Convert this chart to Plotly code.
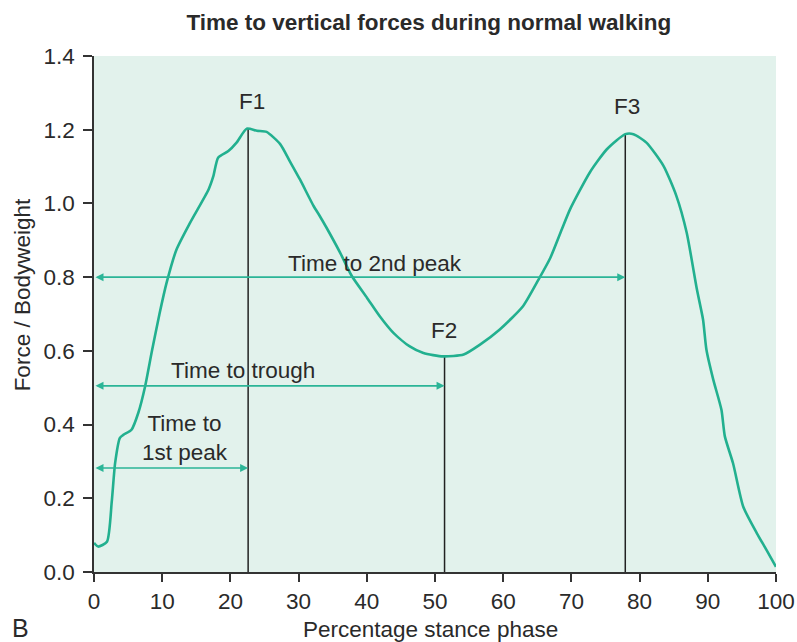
import plotly.graph_objects as go

# Ground reaction force curve (percentage stance, force / bodyweight)
stance_pct = [0, 0.6, 1.9, 2.6, 3.1, 3.8, 4.3, 5.5, 6.5, 7.5, 8.5, 9.6, 10.65, 12.1,
              14.1, 16.8, 17.5, 18.2, 19.7, 20.9, 22.4, 23.9, 25.3, 27.3, 28.7,
              30.2, 32.2, 33.1, 34.1, 36.1, 37.8, 40.0, 41.9, 43.9, 46.3, 48.3,
              51.2, 54.2, 56.6, 59.5, 62.9, 65.2, 66.9, 68.6, 69.8, 72.7, 75.2,
              77.9, 79.1, 81.0, 83.5, 85.4, 86.9, 88.4, 89.3, 89.8, 90.8, 92.0,
              92.5, 93.7, 95.2, 97.2, 98.6, 100.0]
force_bw = [0.079, 0.069, 0.082, 0.19, 0.296, 0.364, 0.372, 0.386, 0.432, 0.504,
            0.60, 0.70, 0.785, 0.875, 0.948, 1.038, 1.074, 1.124, 1.142, 1.165,
            1.203, 1.197, 1.194, 1.161, 1.115, 1.065, 0.993, 0.966, 0.934, 0.866,
            0.803, 0.745, 0.694, 0.649, 0.612, 0.594, 0.585, 0.590, 0.617, 0.658,
            0.721, 0.794, 0.852, 0.93, 0.984, 1.084, 1.147, 1.188, 1.188, 1.165,
            1.102, 1.02, 0.921, 0.767, 0.685, 0.603, 0.522, 0.44, 0.368, 0.295,
            0.177, 0.105, 0.06, 0.014]

# Peaks / trough
peak_names = ["F1", "F2", "F3"]
peak_x = [22.6, 51.4, 77.9]
peak_y = [1.203, 0.585, 1.188]
peak_label_x = [23.2, 51.3, 78.2]
peak_label_y = [1.277, 0.655, 1.264]

# Timing arrows
arrow_labels = ["Time to<br>1st peak", "Time to trough", "Time to 2nd peak"]
arrow_y = [0.282, 0.505, 0.80]
arrow_label_x = [13.3, 21.85, 41.2]
arrow_label_y = [0.364, 0.546, 0.837]

x_ticks = [0, 10, 20, 30, 40, 50, 60, 70, 80, 90, 100]
y_ticks = [0.0, 0.2, 0.4, 0.6, 0.8, 1.0, 1.2, 1.4]

TEAL = "#22b08f"
ARROW = "#2bb597"
TXT = "#2a2a2a"
FONT = "Liberation Sans, Arial, sans-serif"
FS = 22.5

fig = go.Figure()

# vertical lines at peaks
for px, py in zip(peak_x, peak_y):
    fig.add_trace(go.Scatter(x=[px, px], y=[0, py], mode="lines",
                             line=dict(color="#222222", width=1.5),
                             hoverinfo="skip", showlegend=False))

fig.add_trace(go.Scatter(x=stance_pct, y=force_bw, mode="lines",
                         line=dict(color=TEAL, width=2.6, shape="spline", smoothing=0.6),
                         showlegend=False))

annotations = []
for i, ay_ in enumerate(arrow_y):
    annotations.append(dict(x=peak_x[i], y=ay_, ax=0, ay=ay_, xref="x", yref="y",
                            axref="x", ayref="y", text="", showarrow=True,
                            arrowside="end+start", arrowhead=2, arrowsize=1,
                            arrowwidth=1.6, arrowcolor=ARROW))
    annotations.append(dict(x=arrow_label_x[i], y=arrow_label_y[i], xref="x", yref="y",
                            text=arrow_labels[i], showarrow=False,
                            font=dict(size=FS, color=TXT, family=FONT)))

for name, lx, ly in zip(peak_names, peak_label_x, peak_label_y):
    annotations.append(dict(x=lx, y=ly, xref="x", yref="y", text=name,
                            showarrow=False, font=dict(size=FS, color=TXT, family=FONT)))

# axis titles and panel letter
annotations.append(dict(x=0.4927, y=-0.1124, xref="paper", yref="paper",
                        text="Percentage stance phase", showarrow=False,
                        xanchor="center", yanchor="middle",
                        font=dict(size=FS, color=TXT, family=FONT)))
annotations.append(dict(x=-0.1056, y=0.538, xref="paper", yref="paper",
                        text="Force / Bodyweight", showarrow=False, textangle=-90,
                        xanchor="center", yanchor="middle",
                        font=dict(size=FS, color=TXT, family=FONT)))
annotations.append(dict(x=-0.1085, y=-0.109, xref="paper", yref="paper", text="B",
                        showarrow=False, xanchor="center", yanchor="middle",
                        font=dict(size=25, color=TXT, family=FONT)))

fig.update_layout(
    width=797, height=642,
    margin=dict(l=94, r=21, t=56, b=70, autoexpand=False),
    paper_bgcolor="white",
    plot_bgcolor="#e2f2ec",
    title=dict(text="<b>Time to vertical forces during normal walking</b>",
               x=0.538, xanchor="center", y=0.9657, yanchor="middle",
               font=dict(size=FS, color=TXT, family=FONT)),
    annotations=annotations,
    font=dict(family=FONT, color=TXT),
)
fig.update_xaxes(range=[0, 100], tickvals=x_ticks, ticks="outside", ticklen=8,
                 tickcolor="#333333", tickwidth=1.5, showline=True, linecolor="#333333",
                 linewidth=1.5, showgrid=False, zeroline=False, automargin=False,
                 tickfont=dict(size=FS, color=TXT, family=FONT))
fig.update_yaxes(range=[0, 1.4], tickvals=y_ticks, ticktext=[f"{v:.1f}" for v in y_ticks],
                 ticks="outside", ticklen=9, tickcolor="#333333", tickwidth=1.5,
                 showline=True, linecolor="#333333", linewidth=1.5, showgrid=False,
                 zeroline=False, automargin=False, ticklabelstandoff=4,
                 tickfont=dict(size=FS, color=TXT, family=FONT))

# remove the default page margin so the figure fills the window exactly
fig.write_html("out.html",
               config={"displayModeBar": False},
               post_script="document.body.style.margin='0';"
                           "document.documentElement.style.overflow='hidden';")
